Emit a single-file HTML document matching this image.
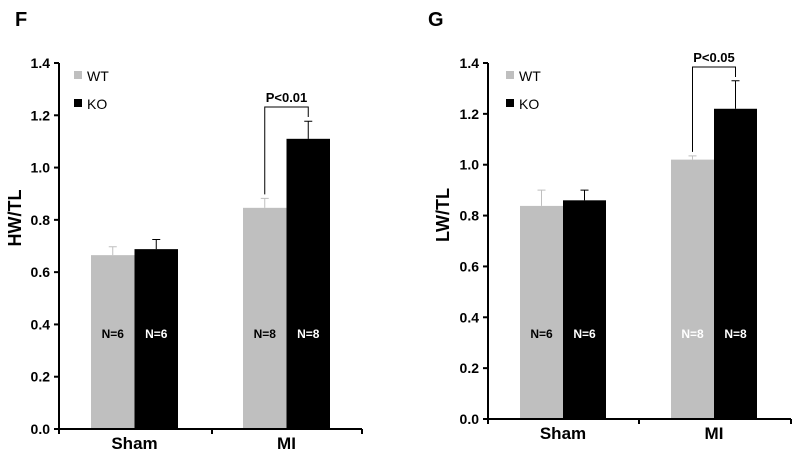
<!DOCTYPE html>
<html><head><meta charset="utf-8"><style>
body{margin:0;background:#fff;}
svg{display:block;font-family:"Liberation Sans",Arial,sans-serif;}
</style></head><body>
<svg id="c" width="800" height="455" viewBox="0 0 800 455"></svg>
<script>
const categories=["Sham","MI"];
const seriesNames=["WT","KO"];
const yTicks=[0,0.2,0.4,0.6,0.8,1.0,1.2,1.4];
const fWT=[0.665,0.846];
const fKO=[0.688,1.11];
const fWTerr=[0.032,0.036];
const fKOerr=[0.037,0.067];
const gWT=[0.838,1.02];
const gKO=[0.86,1.22];
const gWTerr=[0.062,0.015];
const gKOerr=[0.04,0.11];
const fN=[["N=6","N=6"],["N=8","N=8"]];
const gN=[["N=6","N=6"],["N=8","N=8"]];
const NS="http://www.w3.org/2000/svg";
const svg=document.getElementById('c');
function el(t,a,p){const e=document.createElementNS(NS,t);for(const k in a)e.setAttribute(k,a[k]);(p||svg).appendChild(e);return e;}
function panel(o){
 const g=el('g',{});
 
 
 const y=v=>o.y0-(v/1.4)*(o.y0-o.y1);
 const L=el('text',{x:o.letterX,y:26,'font-size':20,'font-weight':'bold'},g);L.textContent=o.letter;
 
 for(let i=0;i<categories.length;i++){
  const vals=[o.wt[i],o.ko[i]],errs=[o.wte[i],o.koe[i]];
  for(let s=0;s<2;s++){
   const x=o.barX[i]+s*o.bw;
   const r=el('rect',{x:x,y:y(vals[s]),width:o.bw,height:o.y0-y(vals[s]),fill:s?'#000':'#bfbfbf'},g);
   
   
   const cx=x+o.bw/2;
   const e=el('path',{d:`M${cx},${y(vals[s])}V${y(vals[s]+errs[s])}M${cx-4},${y(vals[s]+errs[s])}H${cx+4}`,stroke:s?'#000':'#bfbfbf','stroke-width':1,fill:'none'},g);
   
   const col=(s===1||o.whiteN[i])?'#fff':'#000';
   const t=el('text',{x:cx,y:338,'text-anchor':'middle','font-size':12,'font-weight':'bold',fill:col},g);
   t.textContent=o.n[i][s];
  }
  const cl=el('text',{x:o.barX[i]+o.bw,y:o.y0+20,'text-anchor':'middle','font-size':17,'font-weight':'bold'},g);
  cl.textContent=categories[i];
 }
 const ax=el('path',{d:`M${o.ax},${o.y1}V${o.y0}H${o.axEnd}M${o.midTick},${o.y0}v5M${o.axEnd},${o.y0}v5M${o.ax},${o.y0}v5`,stroke:'#000','stroke-width':2,fill:'none'},g);
 
 yTicks.forEach(v=>{
  el('line',{x1:o.ax-5,x2:o.ax,y1:y(v),y2:y(v),stroke:'#000','stroke-width':2},g);
  const t=el('text',{x:o.ax-9,y:y(v)+5,'text-anchor':'end','font-size':14,'font-weight':'bold'},g);
  t.textContent=v.toFixed(1);
 });
 const yl=el('text',{x:o.ylx,y:o.yly,'text-anchor':'middle','font-size':18,'font-weight':'bold',transform:`rotate(-90 ${o.ylx} ${o.yly})`},g);
 yl.textContent=o.ylabel;
 seriesNames.forEach((n,s)=>{
  const r=el('rect',{x:o.legX,y:71+s*28,width:8,height:8,fill:s?'#000':'#bfbfbf'},g);
  
  const t=el('text',{x:o.legX+13,y:81+s*28,'font-size':14},g);
  t.textContent=n;
 });
 const lx=o.barX[1]+o.bw/2,rx=o.barX[1]+1.5*o.bw;
 const b=el('path',{d:`M${lx},${y(o.wt[1]+o.wte[1])-4}V${o.brY}H${rx}V${o.brY+10}`,stroke:'#000','stroke-width':1,fill:'none'},g);
 
 const p=el('text',{x:(lx+rx)/2,y:o.brY-5,'text-anchor':'middle','font-size':13,'font-weight':'bold'},g);
 p.textContent=o.p;
}
panel({name:'panel-f-hw-tl',letter:'F',letterX:15,ax:59,axEnd:362,midTick:212,y0:429,y1:63,barX:[91,243],bw:43.5,
 wt:fWT,ko:fKO,wte:fWTerr,koe:fKOerr,n:fN,whiteN:[false,false],ylabel:'HW/TL',ylx:21,yly:218,legX:74,brY:107,p:'P<0.01'});
panel({name:'panel-g-lw-tl',letter:'G',letterX:428,ax:488,axEnd:791,midTick:639,y0:419,y1:63,barX:[520,671],bw:43,
 wt:gWT,ko:gKO,wte:gWTerr,koe:gKOerr,n:gN,whiteN:[false,true],ylabel:'LW/TL',ylx:449,yly:215,legX:506,brY:67,p:'P<0.05'});
</script>
</body></html>
